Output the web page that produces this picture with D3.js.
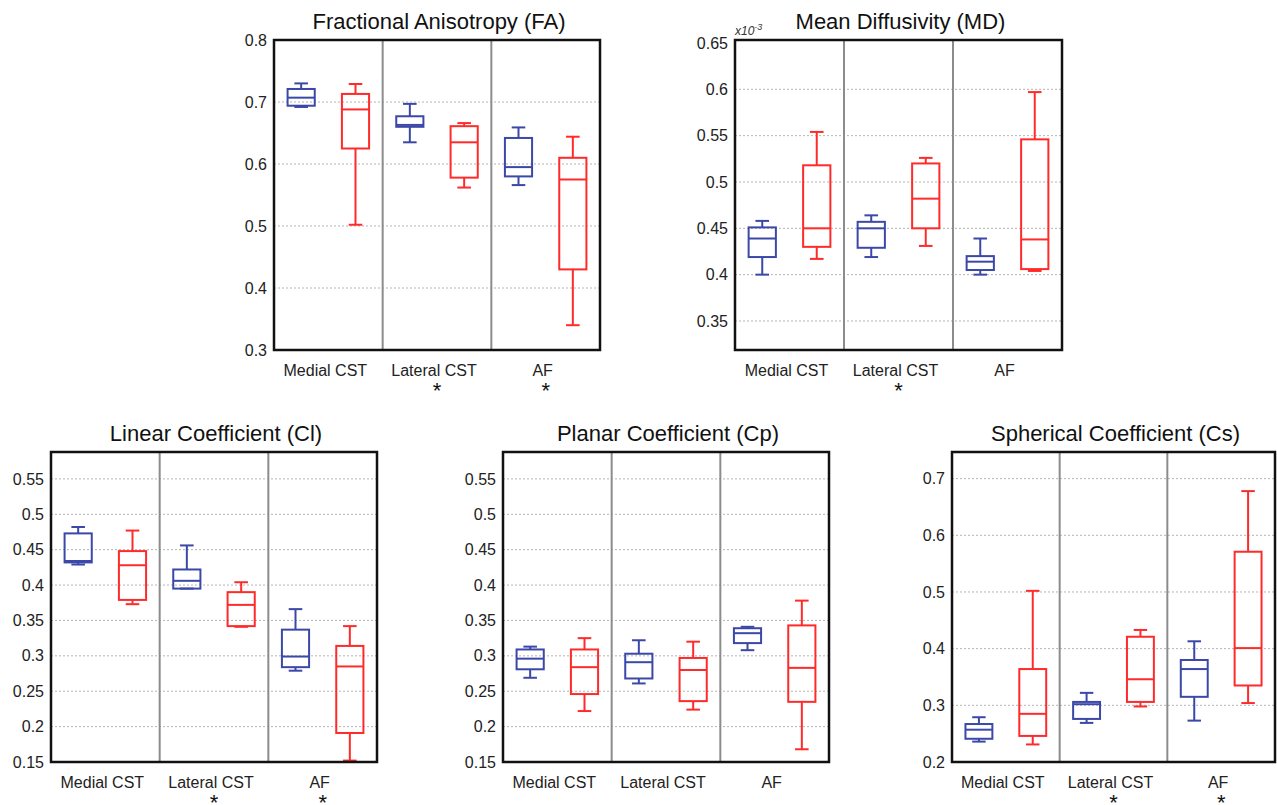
<!DOCTYPE html>
<head>
<meta charset="utf-8">
<script src="https://d3js.org/d3.v7.min.js"></script>
<style>
  body { margin: 0; background: #fff; }
  svg { font-family: "Liberation Sans", Arial, sans-serif; }
</style>
</head>
<body>
<svg width="1277" height="805"></svg>
<script>

// tracts along x, two groups per tract (blue / red)
const tracts = ["Medial CST", "Lateral CST", "AF"];
const groups = ["blue", "red"];
const colors = { blue: "#3b48a8", red: "#ff2b2b" };

// each box = [min, q1, median, q3, max]
const faBlue = [[0.692, 0.694, 0.707, 0.721, 0.730], [0.635, 0.660, 0.663, 0.677, 0.697], [0.566, 0.580, 0.595, 0.642, 0.659]];
const faRed  = [[0.502, 0.625, 0.688, 0.713, 0.729], [0.562, 0.578, 0.635, 0.661, 0.666], [0.340, 0.430, 0.575, 0.610, 0.644]];
const mdBlue = [[0.400, 0.419, 0.439, 0.451, 0.458], [0.419, 0.429, 0.450, 0.457, 0.464], [0.400, 0.405, 0.414, 0.420, 0.439]];
const mdRed  = [[0.417, 0.430, 0.450, 0.518, 0.554], [0.431, 0.450, 0.482, 0.520, 0.526], [0.404, 0.406, 0.438, 0.546, 0.597]];
const clBlue = [[0.429, 0.432, 0.434, 0.473, 0.482], [0.395, 0.395, 0.406, 0.422, 0.456], [0.279, 0.284, 0.299, 0.337, 0.366]];
const clRed  = [[0.373, 0.379, 0.428, 0.448, 0.477], [0.341, 0.342, 0.372, 0.390, 0.404], [0.152, 0.191, 0.285, 0.314, 0.342]];
const cpBlue = [[0.269, 0.281, 0.296, 0.309, 0.313], [0.261, 0.268, 0.291, 0.303, 0.322], [0.308, 0.318, 0.332, 0.339, 0.341]];
const cpRed  = [[0.222, 0.246, 0.284, 0.309, 0.325], [0.224, 0.236, 0.280, 0.297, 0.320], [0.168, 0.235, 0.283, 0.343, 0.378]];
const csBlue = [[0.236, 0.241, 0.257, 0.267, 0.279], [0.269, 0.276, 0.302, 0.306, 0.322], [0.273, 0.315, 0.364, 0.380, 0.413]];
const csRed  = [[0.231, 0.246, 0.285, 0.364, 0.502], [0.298, 0.306, 0.346, 0.421, 0.433], [0.304, 0.335, 0.401, 0.571, 0.678]];

// significance markers under tract labels
const faSig = ["", "*", "*"];
const mdSig = ["", "*", ""];
const clSig = ["", "*", "*"];
const cpSig = ["", "", ""];
const csSig = ["", "*", "*"];

// tick labels
const faTicks = [0.3, 0.4, 0.5, 0.6, 0.7, 0.8];
const mdTicks = [0.35, 0.4, 0.45, 0.5, 0.55, 0.6, 0.65];
const coefTicks = [0.15, 0.2, 0.25, 0.3, 0.35, 0.4, 0.45, 0.5, 0.55];
const csTicks = [0.2, 0.3, 0.4, 0.5, 0.6, 0.7];

const panels = [
  { title: "Fractional Anisotropy (FA)", blue: faBlue, red: faRed, sig: faSig, ticks: faTicks,
    domain: [0.3, 0.8], x0: 274, x1: 600, y0: 40, y1: 350 },
  { title: "Mean Diffusivity (MD)", blue: mdBlue, red: mdRed, sig: mdSig, ticks: mdTicks,
    domain: [0.3187, 0.6532], x0: 735, x1: 1062, y0: 40, y1: 350, exponent: true },
  { title: "Linear Coefficient (Cl)", blue: clBlue, red: clRed, sig: clSig, ticks: coefTicks,
    domain: [0.15, 0.588], x0: 51, x1: 377, y0: 452, y1: 762 },
  { title: "Planar Coefficient (Cp)", blue: cpBlue, red: cpRed, sig: cpSig, ticks: coefTicks,
    domain: [0.15, 0.588], x0: 503, x1: 829, y0: 452, y1: 762 },
  { title: "Spherical Coefficient (Cs)", blue: csBlue, red: csRed, sig: csSig, ticks: csTicks,
    domain: [0.2, 0.747], x0: 952, x1: 1275, y0: 452, y1: 762 }
];

const svg = d3.select("svg");

panels.forEach(function(p) {
  const g = svg.append("g");

  const x = d3.scaleBand().domain(tracts).range([p.x0, p.x1]);
  const inner = d3.scalePoint().domain(groups).range([0, x.bandwidth()]).padding(0.5);
  const y = d3.scaleLinear().domain(p.domain).range([p.y1, p.y0]);
  const boxW = x.bandwidth() * 0.25;

  // dotted grid lines
  g.append("g")
    .selectAll("line")
    .data(p.ticks.filter(function(t) { return y(t) > p.y0 + 3 && y(t) < p.y1 - 3; }))
    .enter().append("line")
      .attr("x1", p.x0).attr("x2", p.x1)
      .attr("y1", y).attr("y2", y)
      .attr("stroke", "#b4b4b4")
      .attr("stroke-width", 1)
      .attr("stroke-dasharray", "2,2");

  // separators between tracts
  g.append("g")
    .selectAll("line")
    .data(tracts.slice(1))
    .enter().append("line")
      .attr("x1", function(d) { return x(d); })
      .attr("x2", function(d) { return x(d); })
      .attr("y1", p.y0).attr("y2", p.y1)
      .attr("stroke", "#8c8c8c")
      .attr("stroke-width", 2);

  // boxes
  groups.forEach(function(grp) {
    const data = p[grp].map(function(v, i) { return { tract: tracts[i], v: v }; });
    const box = g.append("g")
      .attr("stroke", colors[grp])
      .attr("stroke-width", 2)
      .attr("fill", "none")
      .selectAll("g")
      .data(data)
      .enter().append("g")
        .attr("transform", function(d) { return "translate(" + (x(d.tract) + inner(grp)) + ",0)"; });

    box.append("line")
      .attr("y1", function(d) { return y(d.v[0]); })
      .attr("y2", function(d) { return y(d.v[1]); });
    box.append("line")
      .attr("y1", function(d) { return y(d.v[3]); })
      .attr("y2", function(d) { return y(d.v[4]); });
    box.append("line")
      .attr("x1", -boxW / 4).attr("x2", boxW / 4)
      .attr("y1", function(d) { return y(d.v[0]); })
      .attr("y2", function(d) { return y(d.v[0]); });
    box.append("line")
      .attr("x1", -boxW / 4).attr("x2", boxW / 4)
      .attr("y1", function(d) { return y(d.v[4]); })
      .attr("y2", function(d) { return y(d.v[4]); });
    box.append("rect")
      .attr("x", -boxW / 2)
      .attr("width", boxW)
      .attr("y", function(d) { return y(d.v[3]); })
      .attr("height", function(d) { return y(d.v[1]) - y(d.v[3]); });
    box.append("line")
      .attr("x1", -boxW / 2).attr("x2", boxW / 2)
      .attr("y1", function(d) { return y(d.v[2]); })
      .attr("y2", function(d) { return y(d.v[2]); });
  });

  // frame
  g.append("rect")
    .attr("x", p.x0).attr("y", p.y0)
    .attr("width", p.x1 - p.x0).attr("height", p.y1 - p.y0)
    .attr("fill", "none")
    .attr("stroke", "#111")
    .attr("stroke-width", 2.5);

  // y axis labels
  const yAxis = g.append("g")
    .attr("transform", "translate(" + p.x0 + ",0)")
    .call(d3.axisLeft(y).tickValues(p.ticks).tickSize(0).tickPadding(7).tickFormat(d3.format("~g")));
  yAxis.select(".domain").remove();
  yAxis.selectAll("text")
    .attr("font-size", 16)
    .attr("font-family", "Liberation Sans, Arial, sans-serif")
    .attr("fill", "#222");

  // x labels
  g.append("g")
    .selectAll("text")
    .data(tracts)
    .enter().append("text")
      .attr("x", function(d) { return x(d) + x.bandwidth() / 2 - 3; })
      .attr("y", p.y1 + 26)
      .attr("text-anchor", "middle")
      .attr("font-size", 16)
      .attr("fill", "#222")
      .text(function(d) { return d; });

  // asterisks, hung from their top so they stay inside the picture
  g.append("g")
    .selectAll("text")
    .data(tracts)
    .enter().append("text")
      .attr("x", function(d) { return x(d) + x.bandwidth() / 2; })
      .attr("y", p.y1 + 32)
      .attr("dominant-baseline", "hanging")
      .attr("text-anchor", "middle")
      .attr("font-size", 22)
      .attr("fill", "#111")
      .text(function(d, i) { return p.sig[i]; });

  // title
  g.append("text")
    .attr("x", (p.x0 + p.x1) / 2 + 2)
    .attr("y", p.y0 - 11)
    .attr("text-anchor", "middle")
    .attr("font-size", 22)
    .attr("fill", "#111")
    .text(p.title);

  if (p.exponent) {
    const ex = g.append("text")
      .attr("x", p.x0)
      .attr("y", p.y0 - 5)
      .attr("font-size", 12)
      .attr("font-style", "italic")
      .attr("fill", "#333");
    ex.append("tspan").text("x10");
    ex.append("tspan").attr("dy", -5).attr("font-size", 9).text("-3");
  }
});

</script>
</body>
